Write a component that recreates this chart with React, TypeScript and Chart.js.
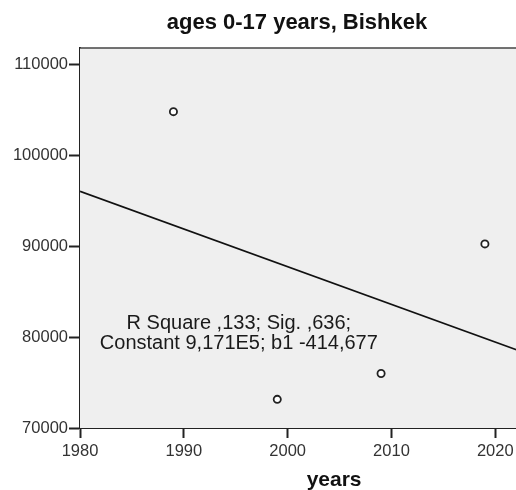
import React, { useEffect, useRef } from "react";
import { Chart, registerables } from "chart.js";

Chart.register(...registerables);

const titleText = "ages 0-17 years, Bishkek";
const xAxisLabel = "years";
const years = [1989, 1999, 2009, 2019];
const population = [104800, 73150, 76000, 90250];
const fitYears = [1980, 2029];
const fitValues = [96040, 75720];
const xTicks = [1980, 1990, 2000, 2010, 2020];
const yTicks = [70000, 80000, 90000, 100000, 110000];
const annotationLines = ["R Square ,133; Sig. ,636;", "Constant 9,171E5; b1 -414,677"];
const annotationAt = { x: 1995.3, y: 80400 };

const FONT = "'Liberation Sans', Arial, sans-serif";

const framePlugin = {
  id: "frame",
  beforeDatasetsDraw(chart: any) {
    const { ctx, chartArea } = chart;
    ctx.save();
    ctx.fillStyle = "#efefef";
    ctx.fillRect(chartArea.left, chartArea.top, chartArea.right - chartArea.left, chartArea.bottom - chartArea.top);
    ctx.strokeStyle = "#444";
    ctx.lineWidth = 1.5;
    ctx.beginPath();
    ctx.moveTo(chartArea.left, chartArea.top);
    ctx.lineTo(chartArea.right, chartArea.top);
    ctx.stroke();
    ctx.restore();
  },
  afterDatasetsDraw(chart: any) {
    const { ctx, scales } = chart;
    const cx = scales.x.getPixelForValue(annotationAt.x);
    const cy = scales.y.getPixelForValue(annotationAt.y);
    ctx.save();
    ctx.fillStyle = "#1a1a1a";
    ctx.font = `20px ${FONT}`;
    ctx.textAlign = "center";
    ctx.textBaseline = "middle";
    const lh = 20.5;
    annotationLines.forEach((t, i) => {
      ctx.fillText(t, cx, cy + (i - (annotationLines.length - 1) / 2) * lh);
    });
    ctx.restore();
  },
};

export default function App() {
  const ref = useRef<HTMLCanvasElement>(null);
  useEffect(() => {
    if (!ref.current) return;
    const chart = new Chart(ref.current, {
      type: "scatter",
      data: {
        datasets: [
          {
            type: "line",
            data: fitYears.map((x, i) => ({ x, y: fitValues[i] })),
            borderColor: "#111",
            borderWidth: 1.8,
            pointRadius: 0,
            fill: false,
          } as any,
          {
            data: years.map((x, i) => ({ x, y: population[i] })),
            pointRadius: 3.6,
            pointBorderWidth: 1.8,
            borderColor: "#222",
            backgroundColor: "#ffffff",
          },
        ],
      },
      plugins: [framePlugin],
      options: {
        responsive: false,
        animation: false,
        layout: { padding: 0 },
        plugins: {
          legend: { display: false },
          tooltip: { enabled: false },
          title: {
            display: true,
            text: titleText,
            color: "#111",
            font: { family: FONT, size: 22, weight: "bold" },
            padding: { top: 10, bottom: 11.6 },
          },
        },
        scales: {
          x: {
            type: "linear",
            min: 1980,
            max: 2028.95,
            afterBuildTicks: (s: any) => {
              s.ticks = xTicks.map((v) => ({ value: v }));
            },
            afterFit: (s: any) => {
              s.height = 62;
            },
            ticks: { color: "#333", font: { family: FONT, size: 16.5 }, padding: 3.5, autoSkip: false, callback: (v: any) => String(v) },
            grid: { drawOnChartArea: false, tickLength: 10, tickColor: "#222", tickWidth: 2 },
            border: { color: "#222", width: 2 },
            title: {
              display: true,
              text: xAxisLabel,
              color: "#111",
              font: { family: FONT, size: 21, weight: "bold", lineHeight: 0.9 },
              padding: { top: 0, bottom: 0 },
            },
          },
          y: {
            type: "linear",
            min: 70000,
            max: 111800,
            afterBuildTicks: (s: any) => {
              s.ticks = yTicks.map((v) => ({ value: v }));
            },
            afterFit: (s: any) => {
              s.width = 80;
            },
            ticks: { color: "#333", font: { family: FONT, size: 16.5 }, padding: 1, autoSkip: false, callback: (v: any) => String(v) },
            grid: { drawOnChartArea: false, tickLength: 11, tickColor: "#222", tickWidth: 2 },
            border: { color: "#222", width: 2 },
          },
        },
      },
    });
    return () => chart.destroy();
  }, []);
  return (
    <div style={{ position: "fixed", left: 0, top: 0, width: 516, height: 490, overflow: "hidden", background: "#fff" }}>
      <canvas ref={ref} width={594} height={490} style={{ display: "block" }} />
    </div>
  );
}
